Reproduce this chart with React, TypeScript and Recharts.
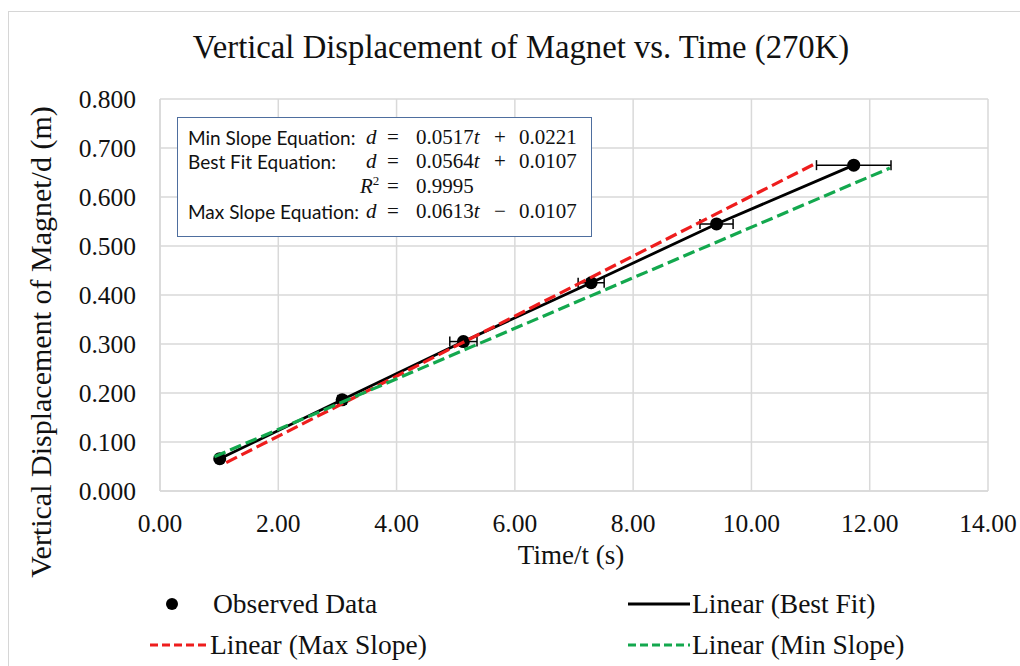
import React from "react";
import { ScatterChart, Scatter, XAxis, YAxis, CartesianGrid, ErrorBar } from "recharts";

// Observed data (time in s, displacement in m, horizontal uncertainty in s)
const times = [1.01, 3.08, 5.13, 7.29, 9.41, 11.73];
const displacements = [0.066, 0.186, 0.305, 0.425, 0.545, 0.665];
const timeErrors = [0.04, 0.07, 0.23, 0.22, 0.28, 0.63];

// Trendline endpoints
const maxSlopeT = [1.12, 11.11];
const maxSlopeD = [0.058, 0.67];
const minSlopeT = [0.92, 12.34];
const minSlopeD = [0.07, 0.659];

const xTicks = [0, 2, 4, 6, 8, 10, 12, 14];
const yTicks = [0, 0.1, 0.2, 0.3, 0.4, 0.5, 0.6, 0.7, 0.8];

const observed = times.map((t, i) => ({ t, d: displacements[i], err: timeErrors[i] }));
const maxLine = maxSlopeT.map((t, i) => ({ t, d: maxSlopeD[i] }));
const minLine = minSlopeT.map((t, i) => ({ t, d: minSlopeD[i] }));

const SERIF = "'Liberation Serif', 'Times New Roman', serif";
const SANS = "Lato, 'Open Sans', sans-serif";
const MATH = "'Liberation Serif', 'DejaVu Serif', serif";

const RED = "#ee1d1d";
const GREEN = "#13a84e";
const GRID = "#d9d9d9";

const Empty = () => <g />;

const abs = (left: number, top: number, extra: React.CSSProperties = {}): React.CSSProperties => ({
  position: "absolute",
  left,
  top,
  whiteSpace: "pre",
  ...extra,
});

const I = ({ c }: { c: string }) => <span style={{ fontStyle: "italic" }}>{c}</span>;

const mathStyle = (left: number, top: number, center = false): React.CSSProperties =>
  abs(left, top, {
    transform: center ? "translate(-50%, -50%)" : "translateY(-50%)",
    fontFamily: MATH,
    fontSize: 21,
    color: "#111",
  });

const labelStyle = (top: number): React.CSSProperties =>
  abs(188, top, { transform: "translateY(-50%)", fontFamily: SANS, fontSize: 19, color: "#111" });

const EqRow = ({ top, coef, op, icpt }: { top: number; coef: string; op: string; icpt: string }) => (
  <>
    <div style={mathStyle(366, top)}>
      <I c="d" />
    </div>
    <div style={mathStyle(393, top, true)}>=</div>
    <div style={mathStyle(416, top)}>
      {coef}
      <I c="t" />
    </div>
    <div style={mathStyle(500, top, true)}>{op}</div>
    <div style={mathStyle(519, top)}>{icpt}</div>
  </>
);

const legendText = (left: number, top: number): React.CSSProperties =>
  abs(left, top, { transform: "translateY(-50%)", fontFamily: SERIF, fontSize: 27.5, color: "#111" });

export default function App() {
  return (
    <div
      style={{
        position: "absolute",
        left: 0,
        top: 0,
        width: 1020,
        height: 666,
        overflow: "hidden",
        background: "#fff",
      }}
    >
      <div
        style={{
          position: "absolute",
          left: 8,
          top: 11,
          width: 1100,
          height: 800,
          borderLeft: "1.5px solid #d6d6d6",
          borderTop: "1.5px solid #d6d6d6",
        }}
      />
      <div style={{ position: "absolute", left: 0, top: 0 }}>
        <ScatterChart width={1020} height={666} margin={{ top: 99, right: 32, left: 0, bottom: 0 }}>
          <CartesianGrid stroke={GRID} strokeWidth={1.5} />
          <XAxis
            type="number"
            dataKey="t"
            domain={[0, 14]}
            ticks={xTicks}
            interval={0}
            height={175}
            tickLine={false}
            tickSize={0}
            tickMargin={23}
            axisLine={{ stroke: GRID, strokeWidth: 1.5 }}
            tickFormatter={(v: number) => v.toFixed(2)}
            tick={{ fontFamily: SERIF, fontSize: 25.5, fill: "#111" }}
          />
          <YAxis
            type="number"
            dataKey="d"
            domain={[0, 0.8]}
            ticks={yTicks}
            interval={0}
            width={160}
            tickLine={false}
            tickSize={0}
            tickMargin={24}
            axisLine={{ stroke: GRID, strokeWidth: 1.5 }}
            tickFormatter={(v: number) => v.toFixed(3)}
            tick={{ fontFamily: SERIF, fontSize: 25.5, fill: "#111" }}
          />
          <Scatter
            name="Linear (Best Fit)"
            data={observed}
            line={{ stroke: "#000", strokeWidth: 2.8 }}
            shape={Empty}
            isAnimationActive={false}
          />
          <Scatter
            name="Observed Data"
            data={observed}
            fill="#000"
            shape={(p: any) => <circle cx={p.cx} cy={p.cy} r={6.5} fill="#000" />}
            isAnimationActive={false}
          >
            <ErrorBar dataKey="err" direction="x" width={5} stroke="#000" strokeWidth={1.5} />
          </Scatter>
          <Scatter
            name="Linear (Max Slope)"
            data={maxLine}
            line={{ stroke: RED, strokeWidth: 3.2, strokeDasharray: "12 5" }}
            shape={Empty}
            isAnimationActive={false}
          />
          <Scatter
            name="Linear (Min Slope)"
            data={minLine}
            line={{ stroke: GREEN, strokeWidth: 3.2, strokeDasharray: "12 5" }}
            shape={Empty}
            isAnimationActive={false}
          />
        </ScatterChart>
      </div>

      {/* Title */}
      <div
        style={abs(521, 47, {
          transform: "translate(-50%, -50%)",
          fontFamily: SERIF,
          fontSize: 32.7,
          color: "#111",
        })}
      >
        Vertical Displacement of Magnet vs. Time (270K)
      </div>

      {/* Y axis title */}
      <div
        style={abs(41, 342, {
          transform: "translate(-50%, -50%) rotate(-90deg)",
          fontFamily: SERIF,
          fontSize: 30,
          color: "#111",
        })}
      >
        Vertical Displacement of Magnet/d (m)
      </div>

      {/* X axis title */}
      <div
        style={abs(571, 555, {
          transform: "translate(-50%, -50%)",
          fontFamily: SERIF,
          fontSize: 27,
          color: "#111",
        })}
      >
        Time/t (s)
      </div>

      {/* Equation box */}
      <div
        style={{
          position: "absolute",
          left: 177,
          top: 117,
          width: 413,
          height: 118,
          border: "1.5px solid #4e6e9e",
          background: "#fff",
        }}
      />
      <div style={labelStyle(137)}>Min Slope Equation:</div>
      <EqRow top={137} coef="0.0517" op="+" icpt="0.0221" />
      <div style={labelStyle(161)}>Best Fit Equation:</div>
      <EqRow top={161} coef="0.0564" op="+" icpt="0.0107" />
      <div style={mathStyle(360, 186)}>
        <I c="R" />
        <sup style={{ fontSize: 13 }}>2</sup>
      </div>
      <div style={mathStyle(393, 186, true)}>=</div>
      <div style={mathStyle(416, 186)}>0.9995</div>
      <div style={labelStyle(211)}>Max Slope Equation:</div>
      <EqRow top={211} coef="0.0613" op="−" icpt="0.0107" />

      {/* Legend */}
      <svg style={{ position: "absolute", left: 0, top: 0 }} width={1020} height={666} pointerEvents="none">
        <circle cx={172} cy={604} r={6} fill="#000" />
        <line x1={628} y1={604} x2={690} y2={604} stroke="#000" strokeWidth={2.8} />
        <line x1={150} y1={645} x2={208} y2={645} stroke={RED} strokeWidth={3} strokeDasharray="8 4" />
        <line x1={628} y1={645} x2={690} y2={645} stroke={GREEN} strokeWidth={3} strokeDasharray="8 4" />
      </svg>
      <div style={legendText(213, 604)}>Observed Data</div>
      <div style={legendText(692, 604)}>Linear (Best Fit)</div>
      <div style={legendText(210, 645)}>Linear (Max Slope)</div>
      <div style={legendText(692, 645)}>Linear (Min Slope)</div>
    </div>
  );
}
